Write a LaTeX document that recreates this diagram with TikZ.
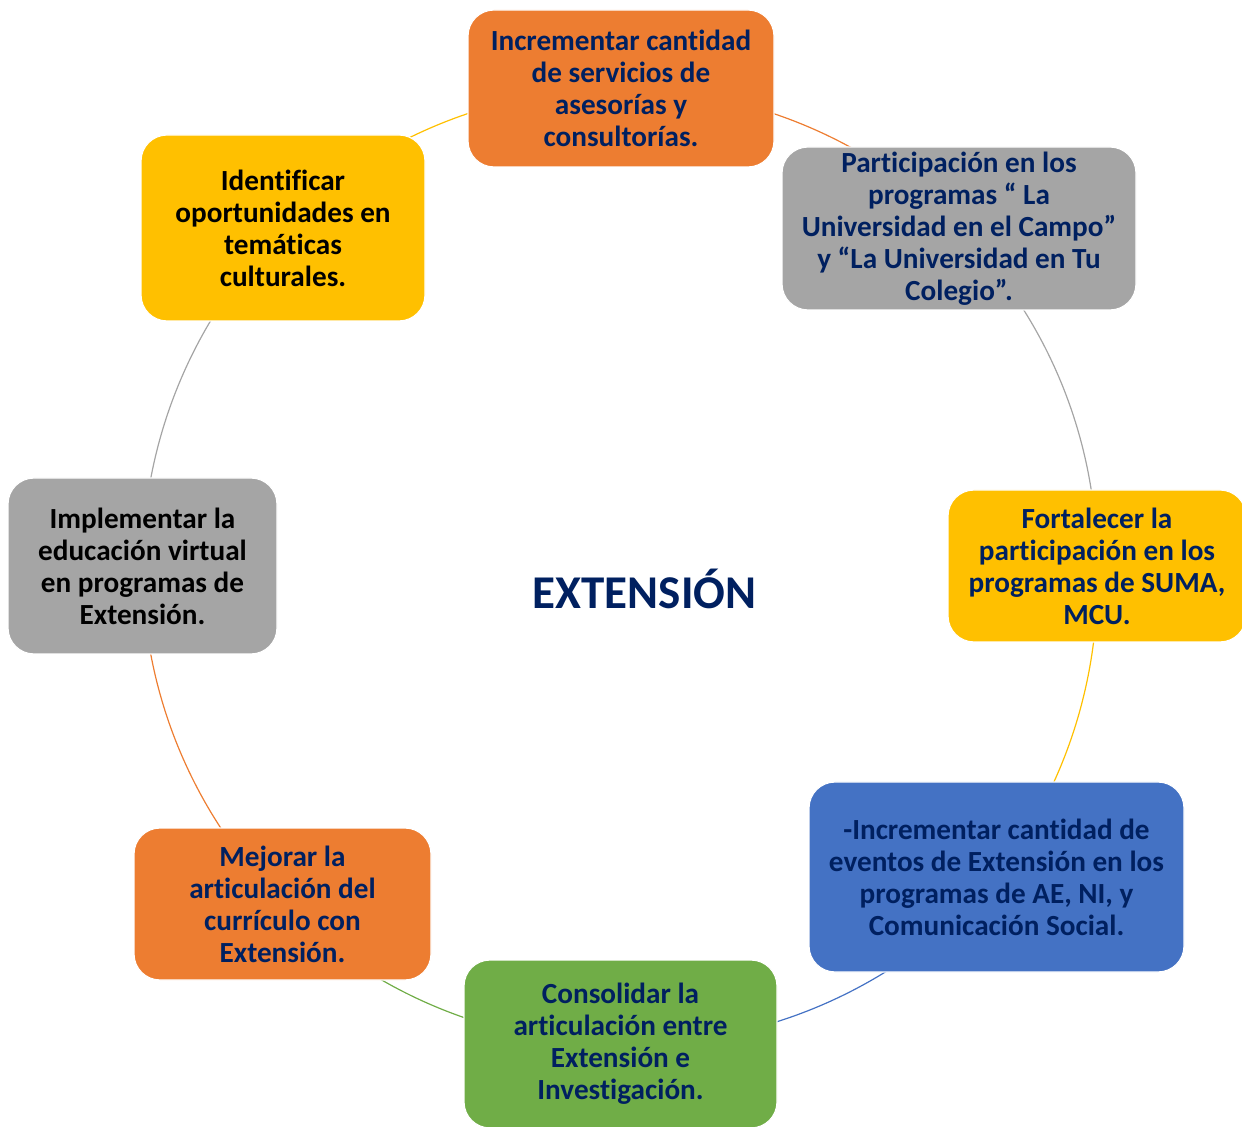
\documentclass[tikz,border=0pt]{standalone}
\usepackage{fontspec}
\setmainfont{Carlito}[Ligatures=CommonOff]
\usepackage{tikz}
\usetikzlibrary{backgrounds}
\definecolor{offorange}{RGB}{237,125,49}
\definecolor{offgray}{RGB}{165,165,165}
\definecolor{offyellow}{RGB}{255,192,0}
\definecolor{offblue}{RGB}{68,114,196}
\definecolor{offgreen}{RGB}{112,173,71}
\definecolor{navy}{RGB}{0,32,96}

\begin{document}
\begin{tikzpicture}[x=0.5pt, y=0.5pt,
    goalbox/.style={rectangle, rounded corners=13pt, draw=white, line width=0.6pt,
      align=center, inner sep=0pt, text=navy,
      font=\fontsize{14.6}{16}\selectfont\bfseries},
    ring/.style={line width=0.6pt}]
    \useasboundingbox (0,0) rectangle (1242,-1127);

    % Goals around the cycle (clockwise from the top)
    \node[goalbox, fill=offorange, minimum width=153pt, minimum height=78.5pt]
      (asesorias) at (621,-88.5)
      {Incrementar cantidad\\de servicios de\\asesorías y\\consultorías.};
    \node[goalbox, fill=offgray, minimum width=177pt, minimum height=81.5pt]
      (campo) at (959,-228.5)
      {Participación en los\\programas “ La\\Universidad en el Campo”\\y “La Universidad en Tu\\Colegio”.};
    \node[goalbox, fill=offyellow, minimum width=149pt, minimum height=76pt]
      (suma) at (1097,-566)
      {Fortalecer la\\participación en los\\programas de SUMA,\\MCU.};
    \node[goalbox, fill=offblue, minimum width=187.5pt, minimum height=95pt]
      (eventos) at (996.5,-877)
      {-Incrementar cantidad de\\eventos de Extensión en los\\programas de AE, NI, y\\Comunicación Social.};
    \node[goalbox, fill=offgreen, minimum width=156.5pt, minimum height=84pt]
      (investigacion) at (620.5,-1044)
      {Consolidar la\\articulación entre\\Extensión e\\Investigación.};
    \node[goalbox, fill=offorange, minimum width=148.5pt, minimum height=76pt]
      (curriculo) at (282.5,-904)
      {Mejorar la\\articulación del\\currículo con\\Extensión.};
    \node[goalbox, fill=offgray, text=black, minimum width=134.5pt, minimum height=88pt]
      (virtual) at (142.5,-566)
      {Implementar la\\educación virtual\\en programas de\\Extensión.};
    \node[goalbox, fill=offyellow, text=black, minimum width=142pt, minimum height=93pt]
      (cultura) at (283,-228)
      {Identificar\\oportunidades en\\temáticas\\culturales.};

    % Title in the middle
    \node[anchor=base, text=navy, font=\fontsize{23.5}{28}\selectfont\bfseries]
      (extension) at (644.5,-609) {EXTENSIÓN};

    % Ring segments, hidden behind the boxes
    \begin{scope}[on background layer]
      \draw[ring, offorange] (asesorias.center) to[bend left=22.5, looseness=0.885] (campo.center);
      \draw[ring, offgray] (campo.center) to[bend left=22.5, looseness=0.885] (suma.center);
      \draw[ring, offyellow] (suma.center) to[bend left=19.9, looseness=0.877] (eventos.center);
      \draw[ring, offblue] (eventos.center) to[bend left=25.3, looseness=0.894] (investigacion.center);
      \draw[ring, offgreen] (investigacion.center) to[bend left=22.5, looseness=0.885] (curriculo.center);
      \draw[ring, offorange] (curriculo.center) to[bend left=22.5, looseness=0.885] (virtual.center);
      \draw[ring, offgray] (virtual.center) to[bend left=22.5, looseness=0.885] (cultura.center);
      \draw[ring, offyellow] (cultura.center) to[bend left=22.5, looseness=0.885] (asesorias.center);
    \end{scope}
\end{tikzpicture}
\end{document}
